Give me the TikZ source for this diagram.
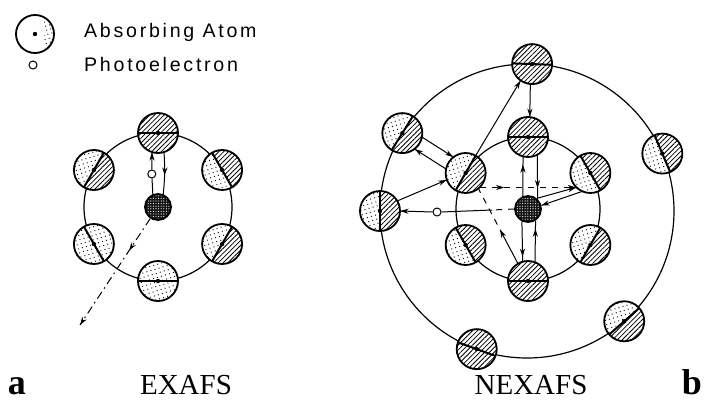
\documentclass[tikz,border=0pt]{standalone}
\usepackage{fontspec}
\setmainfont{Liberation Serif}
\newfontfamily\legendfont[LetterSpace=14]{Liberation Sans}
\usetikzlibrary{arrows.meta,patterns.meta,decorations.markings,calc}

% atom: name, position, direction of the first half, fill of that half, fill of the other half
\newcommand\atom[5]{%
  \node[atom] (#1) at (#2) {};
  \fill[#4] (#1.center) ++(#3-90:1.95) arc[start angle=#3-90, delta angle=180, radius=1.95] -- cycle;
  \fill[#5] (#1.center) ++(#3+90:1.95) arc[start angle=#3+90, delta angle=180, radius=1.95] -- cycle;
  \draw[divider] (#1.center) ++(#3+90:2) -- ++(#3-90:4);
  \fill (#1) circle (1.1pt);
  \draw[line width=0.9pt] (#1) circle (2);}

\begin{document}
\begin{tikzpicture}[x=5pt, y=5pt, line width=0.5pt,
    atom/.style={circle, fill=white, minimum size=20pt, inner sep=0pt},
    core/.style={circle, draw, line width=0.9pt, minimum size=13pt, inner sep=0pt,
      preaction={fill=black!92}, pattern={Dots[distance=1.3pt,radius=0.28pt]}, pattern color=white},
    pe/.style={circle, draw, fill=white, minimum size=4pt, inner sep=0pt},
    hl/.style={pattern={Lines[angle=45,distance=1.7pt,line width=0.4pt]}},
    dt/.style={pattern={Dots[angle=17,distance=2.1pt,radius=0.32pt]}},
    divider/.style={line width=1pt},
    ring/.style={line width=0.6pt},
    dashdot/.style={dash pattern=on 4pt off 2pt on 0.8pt off 2pt},
    tipat/.style={postaction={decorate, decoration={markings,
      mark=at position #1 with {\arrow{Stealth[length=4pt,width=2.6pt]}}}}},
    label/.style={anchor=base, font=\fontsize{14.5}{16}\selectfont},
    panel/.style={anchor=base, font=\fontsize{18}{20}\selectfont\bfseries}]
  \useasboundingbox (0,0) rectangle (70.8,40.9);

  % legend
  \node[atom, minimum size=19pt] (la) at (3.5,37.5) {};
  \fill[dt] (la.center) ++(-60:1.8) arc[start angle=-60, delta angle=120, radius=1.8] -- cycle;
  \fill (la) circle (1.1pt);
  \draw[line width=0.9pt] (la) circle (1.9);
  \node[anchor=base west, font=\legendfont\fontsize{9.8}{12}\selectfont] (lat) at (7.7,37.2) {Absorbing Atom};
  \node[pe] (lp) at (3.3,34.4) {};
  \node[anchor=base west, font=\legendfont\fontsize{9.8}{12}\selectfont] (lpt) at (7.7,33.8) {Photoelectron};

  % a: one shell
  \begin{scope}[shift={(15.8,20.2)}]
    \draw[ring] (0,0) circle (7.4);
    \atom{e1}{90:7.4}{90}{hl}{hl}
    \atom{e2}{150:7.4}{-30}{hl}{dt}
    \atom{e3}{210:7.4}{210}{dt}{dt}
    \atom{e4}{270:7.4}{270}{dt}{dt}
    \atom{e5}{330:7.4}{-30}{hl}{dt}
    \atom{e6}{30:7.4}{30}{hl}{dt}
    \node[core] (ec) at (0,0) {};
    \node[pe] (pe1) at (-0.62,3.3) {};
    \coordinate (eout) at (-7.8,-11.8);
  \end{scope}
  \draw (ec.112) -- (pe1);
  \draw[tipat=1] (pe1) -- (e1.-107);
  \draw[tipat=0.55] (e1.-73) to[bend left=5] (ec.68);
  \draw[dashdot, tipat=0.3, tipat=1] (ec.236) -- (eout);

  % b: two shells
  \begin{scope}[shift={(52.8,20.0)}]
    \draw[ring] (0,0) circle (7.2);
    \draw[ring] (-0.1,-0.2) circle (14.7);
    \atom{n1}{90:7.2}{90}{hl}{hl}
    \atom{n2}{150:7.2}{-30}{hl}{dt}
    \atom{n3}{210:7.2}{30}{hl}{dt}
    \atom{n4}{270:7.2}{270}{hl}{hl}
    \atom{n5}{330:7.2}{-30}{hl}{dt}
    \atom{n6}{30:7.2}{30}{hl}{dt}
    \begin{scope}[shift={(-0.1,-0.2)}]
      \atom{m1}{88:14.7}{88}{hl}{hl}
      \atom{m2}{148:14.7}{-32}{hl}{dt}
      \atom{m3}{180:14.7}{0}{hl}{dt}
      \atom{m4}{250:14.7}{-110}{hl}{hl}
      \atom{m5}{311.4:14.7}{-48.6}{hl}{dt}
      \atom{m6}{23:14.7}{23}{hl}{dt}
    \end{scope}
    \node[core] (nc) at (0,0) {};
    \node[pe] (pe2) at (-9.1,-0.3) {};
    \coordinate (nk) at (-3.6,-0.1);
  \end{scope}
  \draw[dashed] (nc.west) -- (nk);
  \draw (nk) -- (pe2.east);
  \draw[tipat=1] (pe2.west) -- (m3.east);
  \draw[tipat=0.8] (nc.112) -- (n1.-104);
  \draw[tipat=0.75] (n1.-63) -- (nc.46);
  \draw[tipat=0.885] (nc.-116) -- (n4.105);
  \draw[tipat=0.8] (n4.70) -- (nc.-57);
  \draw[tipat=1] (nc.50) -- (n6.225);
  \draw[tipat=1] (n6.245) -- (nc.15);
  \draw[dashed, tipat=0.25, tipat=1] (n2.-45) -- (n6.-135);
  \coordinate (nm) at ($(n4.120)!0.45!(n2.-51)$);
  \draw[tipat=1] (n4.120) -- (nm);
  \draw[dashed, shorten <=3pt] (nm) -- (n2.-51);
  \draw[tipat=1] (m1.-95) -- (n1.85);
  \draw[tipat=1] (n2.60) -- (m1.235);
  \draw[tipat=1] (m3.30) -- (n2.200);
  \draw[tipat=1] (m2.-12) -- (n2.128);
  \draw[tipat=1] (n2.168) -- (m2.-52);

  % captions
  \node[panel] (pa) at (1.7,1.5) {a};
  \node[label] (ta) at (18.6,1.5) {EXAFS};
  \node[label] (tb) at (53.1,1.5) {NEXAFS};
  \node[panel] (pb) at (69.2,1.5) {b};
\end{tikzpicture}
\end{document}
